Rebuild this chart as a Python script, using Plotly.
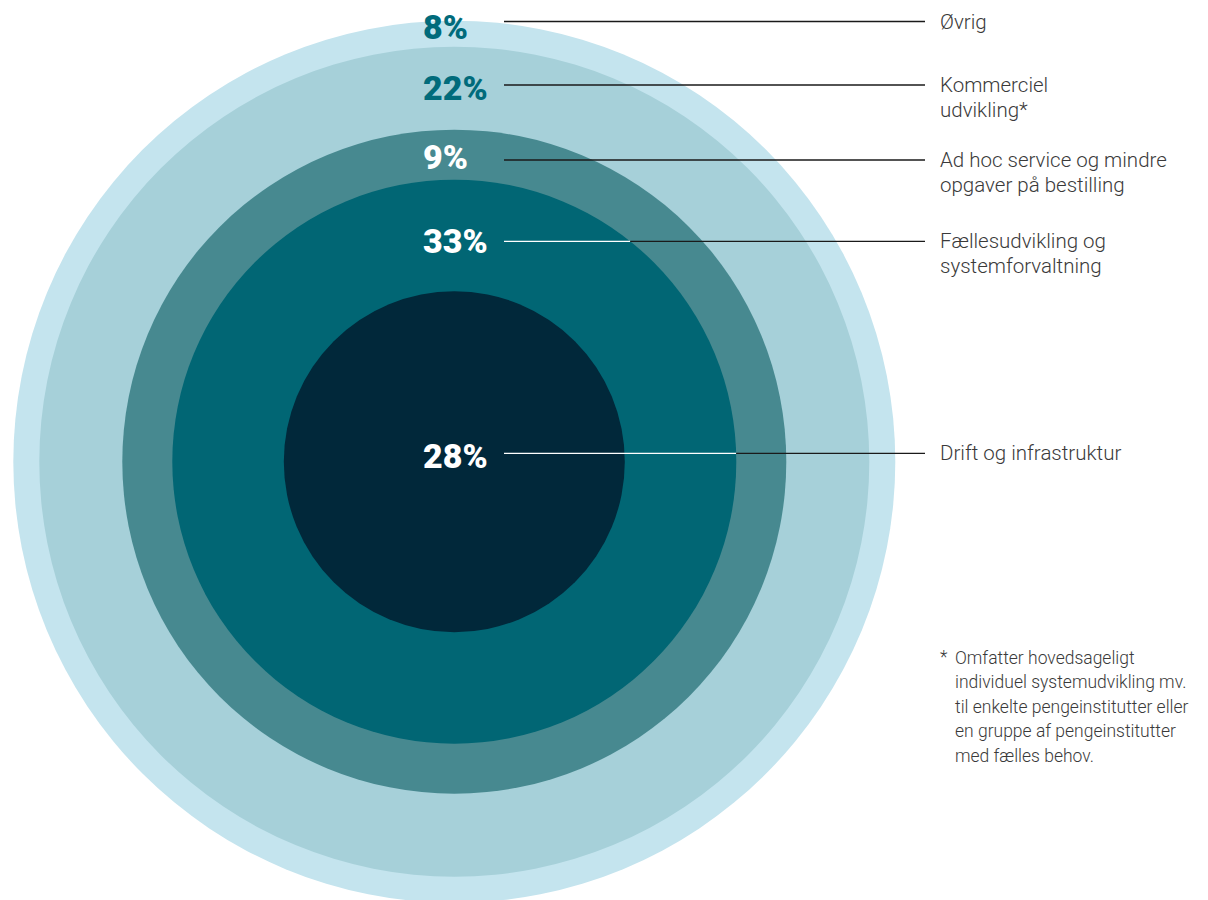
import math
import plotly.graph_objects as go

# ---------------- data ----------------
categories = [
    "Øvrig",
    "Kommerciel<br>udvikling*",
    "Ad hoc service og mindre<br>opgaver på bestilling",
    "Fællesudvikling og<br>systemforvaltning",
    "Drift og infrastruktur",
]
shares = [8, 22, 9, 33, 28]
footnote_lines = [
    "Omfatter hovedsageligt",
    "individuel systemudvikling mv.",
    "til enkelte pengeinstitutter eller",
    "en gruppe af pengeinstitutter",
    "med fælles behov.",
]

# ---------------- layout / style ----------------
W, H = 1208, 900
CX, CY = 454.3, 461.7
ring_radius = [441, 415, 332, 282, 170.5]
ring_color = ["#c4e4ee", "#a6d0d9", "#478990", "#016674", "#01283a"]
pct_color = ["#016b7b", "#016b7b", "#ffffff", "#ffffff", "#ffffff"]
leader_y = [21.5, 85, 160, 241.3, 453.3]
pct_y = [26.5, 87.5, 156.5, 240.5, 455.5]
PCT_X = 421
LINE_X0, LINE_X1 = 504, 925
LABEL_X = 938
LABEL_LH = 25
TXT = "#3a3a3a"
LABEL_FONT = dict(family="Roboto", size=20.5, color=TXT, weight=300)
FOOT_FONT = dict(family="Roboto", size=17.5, color=TXT, weight=300)
PCT_FONT = dict(family="Roboto", size=34, weight=900)
DARK_R = ring_radius[3]  # leader lines are white inside the dark core

fig = go.Figure()
shapes = []
for r, c in zip(ring_radius, ring_color):
    shapes.append(dict(type="circle", xref="x", yref="y", x0=CX - r, x1=CX + r,
                       y0=CY - r, y1=CY + r, fillcolor=c, line=dict(width=0),
                       layer="below"))

annotations = []
for i, (cat, v) in enumerate(zip(categories, shares)):
    y = leader_y[i]
    dy = abs(y - CY)
    split = LINE_X0
    if dy < DARK_R:
        split = min(LINE_X1, CX + math.sqrt(DARK_R ** 2 - dy ** 2))
    if split > LINE_X0:
        shapes.append(dict(type="line", xref="x", yref="y", x0=LINE_X0, x1=split,
                           y0=y, y1=y, line=dict(color="#ffffff", width=1.3)))
    shapes.append(dict(type="line", xref="x", yref="y", x0=split, x1=LINE_X1,
                       y0=y, y1=y, line=dict(color="#1a1a1a", width=1.3)))
    annotations.append(dict(x=PCT_X, y=pct_y[i], xref="x", yref="y", text=f"{v}%",
                            showarrow=False, xanchor="left", yanchor="middle",
                            font=dict(PCT_FONT, color=pct_color[i])))
    for j, line in enumerate(cat.split("<br>")):
        annotations.append(dict(x=LABEL_X, y=y + j * LABEL_LH, xref="x", yref="y",
                                text=line, showarrow=False, xanchor="left",
                                yanchor="middle", font=LABEL_FONT))

FN_Y0, FN_LH = 657.5, 24.5
annotations.append(dict(x=938, y=FN_Y0 - 1, xref="x", yref="y", text="*",
                        showarrow=False, xanchor="left", yanchor="middle",
                        font=FOOT_FONT))
for j, line in enumerate(footnote_lines):
    annotations.append(dict(x=953, y=FN_Y0 + j * FN_LH, xref="x", yref="y",
                            text=line, showarrow=False, xanchor="left",
                            yanchor="middle", font=FOOT_FONT))

fig.update_layout(
    width=W, height=H, margin=dict(l=0, r=0, t=0, b=0),
    paper_bgcolor="#ffffff", plot_bgcolor="#ffffff",
    xaxis=dict(range=[0, W], visible=False, fixedrange=True),
    yaxis=dict(range=[H, 0], visible=False, fixedrange=True),
    shapes=shapes, annotations=annotations, showlegend=False,
)
fig.write_html("out.html", config={"displayModeBar": False},
               post_script="document.body.style.margin='0';document.body.style.overflow='hidden';")
